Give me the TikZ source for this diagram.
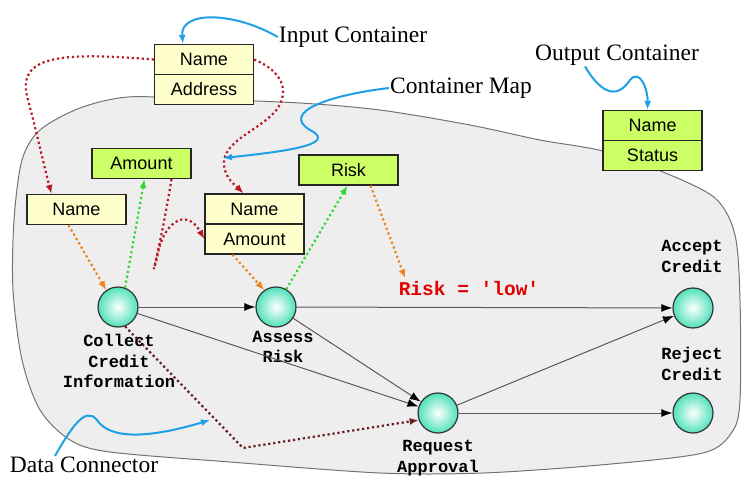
\documentclass[tikz,border=0pt]{standalone}
\usepackage{fontspec}
\setmainfont{Liberation Serif}
\setsansfont{Liberation Sans}
\setmonofont{Liberation Mono}
\usetikzlibrary{arrows.meta}
\definecolor{paleyellow}{RGB}{255,255,204}
\definecolor{lime}{RGB}{204,255,102}
\definecolor{aqua}{RGB}{80,225,185}
\definecolor{areagray}{RGB}{238,238,238}
\definecolor{mapblue}{RGB}{30,160,230}
\definecolor{datared}{RGB}{185,25,35}
\definecolor{dataorange}{RGB}{240,130,30}
\definecolor{datagreen}{RGB}{50,215,50}
\definecolor{databrown}{RGB}{100,30,30}
\begin{document}
\begin{tikzpicture}[x=1pt,y=-1pt]

      \tikzset{container/.style={draw=black!85, line width=1.2pt, inner sep=0pt, minimum width=99pt, minimum height=30pt, fill=paleyellow, font=\sffamily\fontsize{18}{20}\selectfont},
               outbox/.style={container, fill=lime},
               activity/.style={draw=black!80, line width=1.2pt, circle, inner sep=0pt, minimum size=40pt, inner color=white, outer color=aqua},
               actlabel/.style={font=\ttfamily\bfseries\fontsize{17}{20.5}\selectfont, align=center},
               note/.style={inner sep=1pt, font=\fontsize{23.5}{26}\selectfont},
               flow/.style={draw=black!65, line width=1pt, -{Latex[length=11pt,width=8pt,color=black]}},
               mapline/.style={draw=mapblue, line width=2pt, -{Latex[length=9pt,width=7pt]}},
               dataline/.style={line width=2.2pt, dash pattern=on 2.2pt off 2.8pt, -{Latex[length=9pt,width=7pt]}}}
      \useasboundingbox (0,0) rectangle (743,479);
% Process area
      \draw[draw=black!55, line width=1pt, fill=areagray] plot[smooth cycle, tension=0.5] coordinates {
            (128,97) (200,99) (300,103) (380,110) (470,125) (540,140) (603,151) (663,172) (715,198)
            (735,235) (740,300) (740,400) (732,432) (703,453) (600,465) (483,473) (380,473) (230,462)
            (110,452) (70,440) (40,410) (22,360) (13,290) (14,220) (22,160) (40,130) (80,108)};
% Containers
	%Input
      	\node[container] (inName) at (204,59.5) {Name};
      	\node[container] (inAddr) at (204,89.5) {Address};
	%Output
      	\node[outbox] (outName) at (652.5,125.5) {Name};
      	\node[outbox] (outStatus) at (652.5,155.5) {Status};
	%Steps
      	\node[outbox] (amountG) at (141.5,163.5) {Amount};
      	\node[container] (leftName) at (76.5,209.5) {Name};
      	\node[container] (midName) at (254.5,209) {Name};
      	\node[container] (midAmount) at (254.5,239) {Amount};
      	\node[outbox] (riskG) at (348.5,170) {Risk};
% Activities
      	\node[activity] (collect) at (118,307) {};
      	\node[activity] (assess) at (276,307) {};
      	\node[activity] (request) at (438,413) {};
      	\node[activity] (accept) at (693,308) {};
      	\node[activity] (reject) at (693,413) {};
      	\node[actlabel] (collectLbl) at (119,361) {Collect\\Credit\\Information};
      	\node[actlabel] (assessLbl) at (283,347) {Assess\\Risk};
      	\node[actlabel] (requestLbl) at (438,458) {Request\\Approval};
      	\node[actlabel] (acceptLbl) at (692,256.5) {Accept\\Credit};
      	\node[actlabel] (rejectLbl) at (692,364) {Reject\\Credit};
      	\node[actlabel, text=red!90!black, font=\ttfamily\bfseries\fontsize{19.5}{22}\selectfont] (riskLow) at (469,289) {Risk = 'low'};
% Notes
      	\node[note] (inLbl) at (353,37) {Input Container};
      	\node[note] (mapLbl) at (461,88) {Container Map};
      	\node[note] (outLbl) at (617,55) {Output Container};
      	\node[note] (dataLbl) at (84,465) {Data Connector};
      	\coordinate (mapTip) at (223,158);
      	\coordinate (dataTip) at (210,420);
%Edges
	%Control flow
		\path[flow] (collect) edge (assess);
		\path[flow] (assess) edge (accept);
		\path[flow] (collect) edge (request);
		\path[flow] (assess) edge (request);
		\path[flow] (request) edge (accept);
		\path[flow] (request) edge (reject);
	%Data flow
		\draw[dataline, datared] (inName.west) .. controls (60,52) and (15,55) .. (28,100) .. controls (35,125) and (45,170) .. ([xshift=-25pt]leftName.north);
		\draw[dataline, datared] (inName.east) .. controls (275,68) and (292,85) .. (278,108) .. controls (262,130) and (222,140) .. (224,165) .. controls (225,178) and (235,185) .. ([xshift=-11pt]midName.north);
		\draw[dataline, datared] ([xshift=30pt]amountG.south) .. controls (160,250) and (148,290) .. (157,258) .. controls (162,225) and (185,205) .. (midAmount.west);
		\draw[dataline, dataorange] ([xshift=-8pt]leftName.south) -- (collect.125);
		\draw[dataline, datagreen] (collect.70) -- ([xshift=3pt]amountG.south);
		\draw[dataline, dataorange] ([xshift=-22pt]midAmount.south) -- (assess.125);
		\draw[dataline, datagreen] (assess.60) -- ([xshift=-1pt]riskG.south);
		\draw[dataline, dataorange] ([xshift=22pt]riskG.south) -- ([xshift=10pt]riskLow.north west);
		\draw[dataline, databrown] (collect.-70) -- (243,448) -- (request.200);
	%Notes
		\draw[mapline] (inLbl.west) .. controls (235,12) and (180,10) .. ([xshift=29pt]inName.north west);
		\draw[mapline] (mapLbl.west) .. controls (330,95) and (280,112) .. (310,130) .. controls (340,145) and (280,152) .. (mapTip);
		\draw[mapline] ([xshift=-32pt]outLbl.south) .. controls (605,100) and (620,95) .. (630,80) .. controls (640,68) and (648,90) .. ([xshift=-5pt]outName.north);
		\draw[mapline] ([xshift=-29pt]dataLbl.north) .. controls (70,430) and (85,405) .. (97,420) .. controls (110,440) and (150,438) .. (dataTip);

\end{tikzpicture}
\end{document}
